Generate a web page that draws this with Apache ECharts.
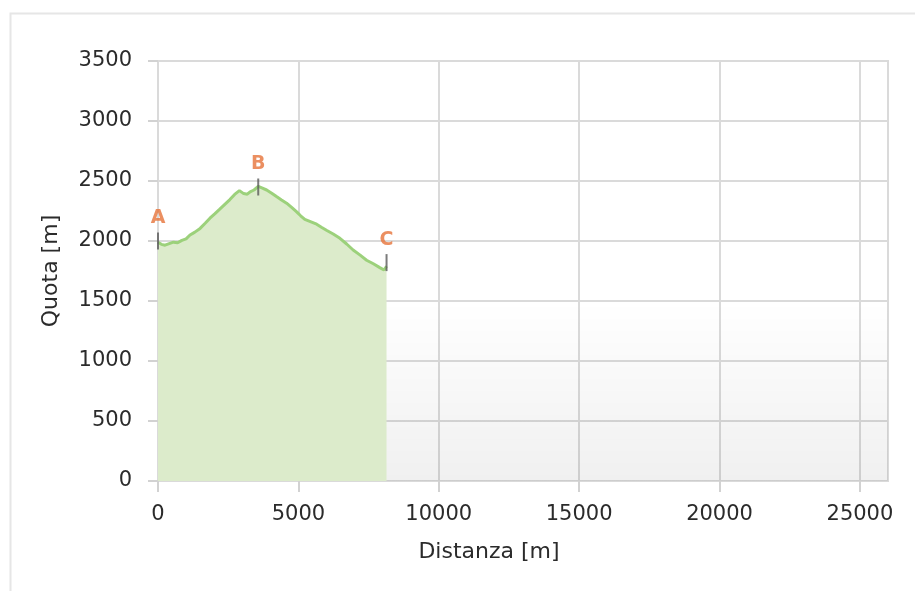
<!DOCTYPE html>
<html>
<head>
<meta charset="utf-8">
<script src="https://cdn.jsdelivr.net/npm/echarts@6/dist/echarts.min.js"></script>
<style>
  html, body { margin: 0; padding: 0; background: #fff; }
  #chart { width: 915px; height: 591px; }
</style>
</head>
<body>
<div id="chart"></div>
<script>
// profilo altimetrico: distanza [m] / quota [m]
var distanze = [0, 120, 250, 400, 550, 700, 850, 1000, 1140, 1300,
  1500, 1680, 1850, 2030, 2200, 2380, 2560, 2730, 2900, 3050,
  3180, 3280, 3420, 3570, 3720, 3870, 4050, 4220, 4400, 4580,
  4760, 4930, 5080, 5230, 5450, 5650, 5820, 6000, 6240, 6480,
  6720, 6950, 7200, 7430, 7670, 7900, 8050, 8140]
var quote = [1990, 1972, 1965, 1978, 1990, 1985, 2005, 2018, 2050, 2072,
  2105, 2148, 2190, 2228, 2265, 2305, 2345, 2388, 2420, 2395,
  2390, 2410, 2425, 2455, 2440, 2425, 2398, 2370, 2342, 2315,
  2280, 2245, 2210, 2180, 2160, 2140, 2115, 2090, 2058, 2022,
  1975, 1925, 1882, 1840, 1810, 1778, 1758, 1790]

// punti tappa
var tappeNomi = ['A', 'B', 'C']
var tappeDist = [0, 3570, 8140]
var tappeQuota = [2000, 2450, 1820]

var xTicks = [0, 5000, 10000, 15000, 20000, 25000]
var xMax = 26000
var yMax = 3500

var chart = echarts.init(document.getElementById('chart'))

var font = 'DejaVu Sans'
var plain = function (v) { return String(v) }

chart.setOption({
  animation: false,
  graphic: [{
    type: 'rect',
    left: 8, top: 11,
    shape: { width: 930, height: 600 },
    style: { fill: 'none', stroke: '#e6e6e6', lineWidth: 2 },
    silent: true
  }],
  grid: {
    left: 158, right: 27, top: 61, bottom: 110,
    show: true,
    borderColor: '#dadada',
    borderWidth: 2,
    backgroundColor: 'transparent'
  },
  xAxis: {
    type: 'value',
    min: 0,
    max: xMax,
    interval: 5000,
    name: 'Distanza [m]',
    nameLocation: 'middle',
    nameGap: 60,
    nameTextStyle: { fontFamily: font, fontSize: 22, color: '#2b2b2b', padding: [0, 68, 0, 0] },
    axisLine: { show: false },
    axisTick: { show: true, length: 11, customValues: xTicks, lineStyle: { color: '#d2d2d2', width: 2 } },
    axisLabel: { customValues: xTicks, formatter: plain, margin: 23, fontFamily: font, fontSize: 21, color: '#2b2b2b' },
    splitLine: { show: true, lineStyle: { color: '#dadada', width: 2 } }
  },
  yAxis: {
    type: 'value',
    min: 0,
    max: yMax,
    interval: 500,
    name: 'Quota [m]',
    nameLocation: 'middle',
    nameGap: 96,
    nameTextStyle: { fontFamily: font, fontSize: 22, color: '#2b2b2b' },
    axisLine: { show: false },
    axisTick: { show: true, length: 10, lineStyle: { color: '#d2d2d2', width: 2 } },
    axisLabel: { formatter: plain, margin: 26, fontFamily: font, fontSize: 21, color: '#2b2b2b' },
    splitLine: { show: true, lineStyle: { color: '#dadada', width: 2 } }
  },
  series: [
    {
      // sfondo sfumato nella parte bassa
      type: 'line',
      z: 1,
      silent: true,
      symbol: 'none',
      data: [[0, 0]],
      lineStyle: { opacity: 0 },
      markArea: {
        silent: true,
        itemStyle: {
          color: {
            type: 'linear', x: 0, y: 0, x2: 0, y2: 1,
            colorStops: [
              { offset: 0, color: 'rgba(0,0,0,0.0)' },
              { offset: 1, color: 'rgba(0,0,0,0.06)' }
            ]
          }
        },
        data: [[{ coord: [0, 1500] }, { coord: [xMax, 0] }]]
      }
    },
    {
      type: 'line',
      z: 3,
      symbol: 'none',
      data: distanze.map(function (d, i) { return [d, quote[i]] }),
      lineStyle: { color: '#9cd17b', width: 3 },
      areaStyle: { color: '#dcebcb', opacity: 1 }
    },
    {
      type: 'scatter',
      z: 5,
      symbol: 'rect',
      symbolSize: [2, 17],
      itemStyle: { color: '#5a5a5a' },
      data: tappeNomi.map(function (n, i) { return { name: n, value: [tappeDist[i], tappeQuota[i]] } }),
      label: {
        show: true,
        position: 'top',
        distance: 5,
        formatter: '{b}',
        fontFamily: font,
        fontWeight: 'bold',
        fontSize: 19,
        color: '#e6733a'
      }
    }
  ]
})
</script>
</body>
</html>
